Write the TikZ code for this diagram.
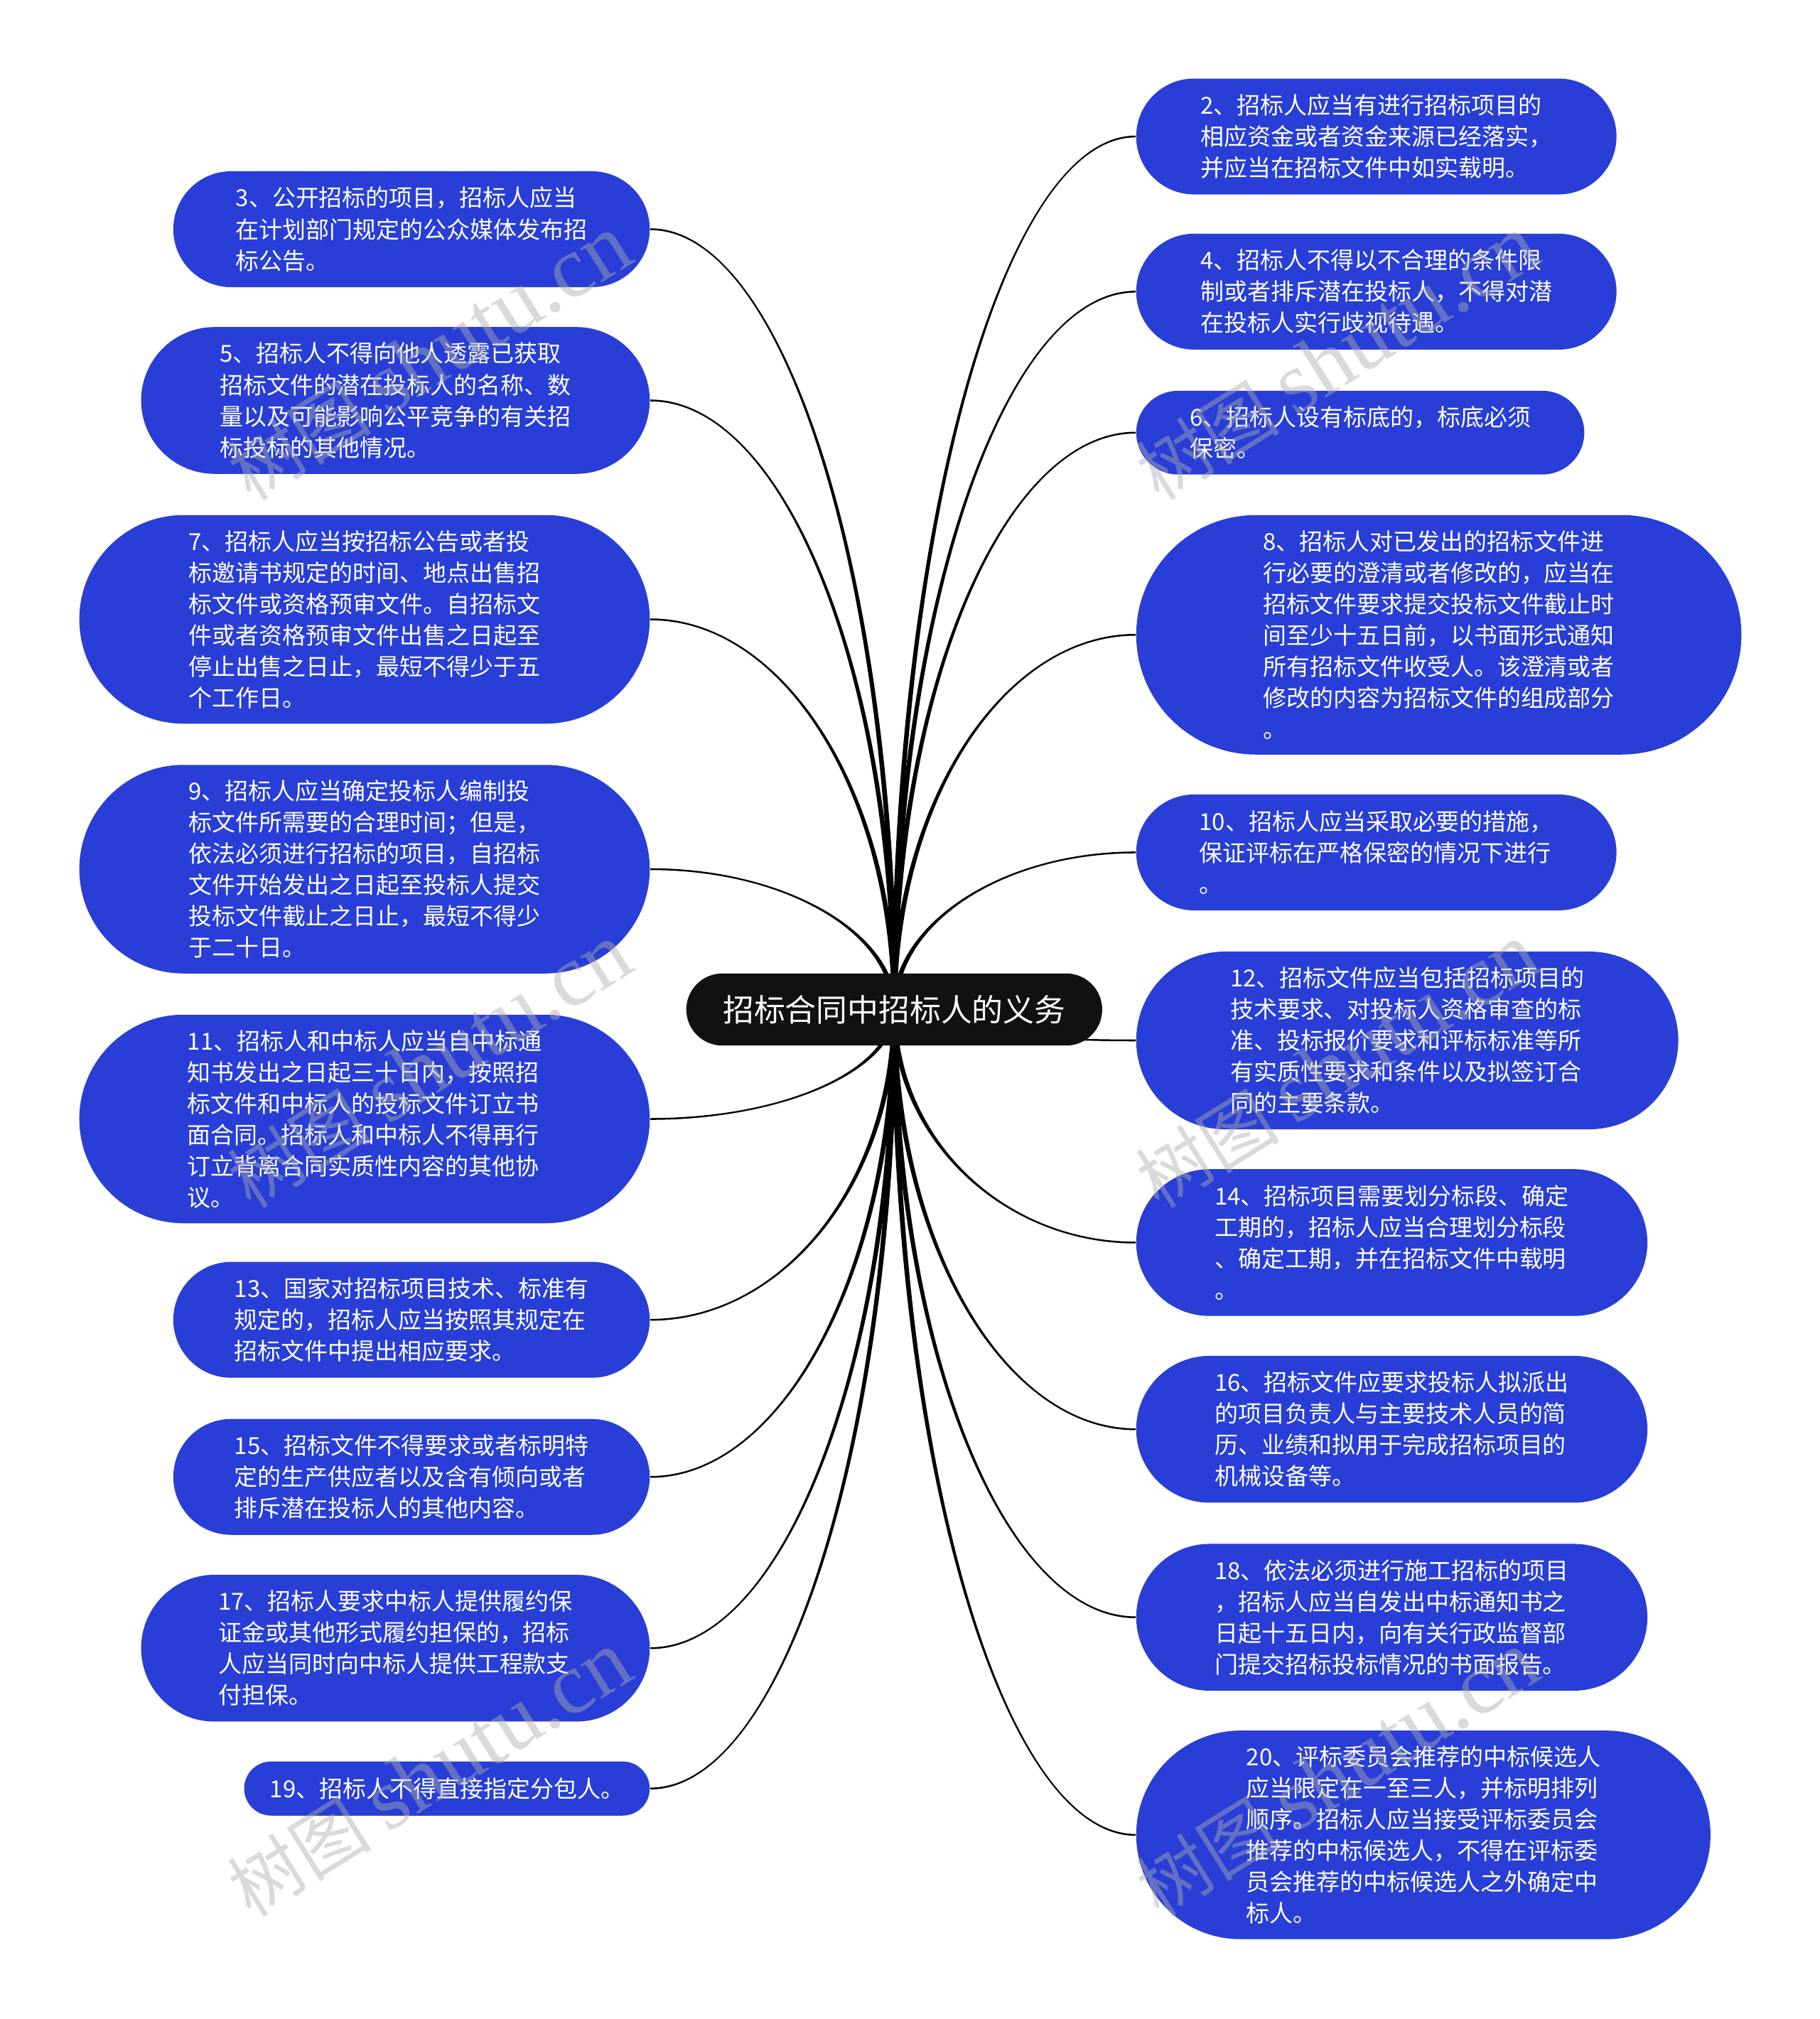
\documentclass[tikz,border=0pt]{standalone}
\usepackage{fontspec}
\setmainfont{Noto Sans CJK SC}
\newfontfamily\wmlat{Liberation Serif}
\usetikzlibrary{calc}
\definecolor{nodeblue}{RGB}{40,62,214}
\definecolor{rootblack}{RGB}{17,17,17}
\pgfdeclarelayer{bg}
\pgfsetlayers{bg,main}
\tikzset{
  bn/.style={fill=nodeblue, text=white, inner sep=0pt, align=left,
    font=\fontsize{9.1pt}{12.15pt}\selectfont},
  rootnode/.style={fill=rootblack, text=white, inner sep=0pt,
    font=\fontsize{12.1pt}{14pt}\selectfont, minimum width=161.5pt,
    minimum height=28pt, rounded corners=14pt},
  wm/.style={rotate=32, anchor=base west, inner sep=0pt, text=black!32, text opacity=0.45}
}
% right-side node: name, y, width, height, radius, text
\newcommand\rnode[6]{\node[bn, anchor=west, minimum width=#3, minimum height=#4, rounded corners=#5] (#1) at (882,#2) {#6};}
% left-side node
\newcommand\lnode[6]{\node[bn, anchor=east, minimum width=#3, minimum height=#4, rounded corners=#5] (#1) at (505,#2) {#6};}
% tapered connector from node anchor #1 to node anchor #2
\newcommand\conn[2]{%
\fill[black] let \p1=(#1), \p2=(#2), \n1={sign(\y2-\y1)}, \n2={sign(\x2-\x1)} in
 ({\x1-\n1*1pt},\y1) .. controls ({\x1-\n1*1pt},{\y1+0.55*(\y2-\y1)}) and ({\x2-0.55*(\x2-\x1)},{\y2+\n2*0.35pt}) .. (\x2,{\y2+\n2*0.35pt})
 -- (\x2,{\y2-\n2*0.35pt}) .. controls ({\x2-0.55*(\x2-\x1)},{\y2-\n2*0.35pt}) and ({\x1+\n1*1pt},{\y1+0.55*(\y2-\y1)}) .. ({\x1+\n1*1pt},\y1) -- cycle;}
\newcommand\wmark[3]{\node[wm] (#1) at (#2,#3) {\fontsize{28pt}{30pt}\selectfont 树图 {\wmlat\fontsize{34pt}{36pt}\selectfont shutu.cn}};}
\begin{document}
\begin{tikzpicture}[x=0.5pt,y=-0.5pt]
\useasboundingbox (0,0) rectangle (1413,1568);

\node[rootnode] (c) at (694.5,784) {招标合同中招标人的义务};

% right column
\rnode{n2}{106}{186.5pt}{45pt}{22.5pt}{2、招标人应当有进行招标项目的\\相应资金或者资金来源已经落实，\\并应当在招标文件中如实载明。}
\rnode{n4}{226.5}{186.5pt}{45pt}{22.5pt}{4、招标人不得以不合理的条件限\\制或者排斥潜在投标人，不得对潜\\在投标人实行歧视待遇。}
\rnode{n6}{336}{174pt}{32.5pt}{16.25pt}{6、招标人设有标底的，标底必须\\保密。}
\rnode{n8}{493}{235pt}{93pt}{46.5pt}{8、招标人对已发出的招标文件进\\行必要的澄清或者修改的，应当在\\招标文件要求提交投标文件截止时\\间至少十五日前，以书面形式通知\\所有招标文件收受人。该澄清或者\\修改的内容为招标文件的组成部分\\。}
\rnode{n10}{662}{186.5pt}{45pt}{22.5pt}{10、招标人应当采取必要的措施，\\保证评标在严格保密的情况下进行\\。}
\rnode{n12}{808}{210.5pt}{69pt}{34.5pt}{12、招标文件应当包括招标项目的\\技术要求、对投标人资格审查的标\\准、投标报价要求和评标标准等所\\有实质性要求和条件以及拟签订合\\同的主要条款。}
\rnode{n14}{965}{198.5pt}{57pt}{28.5pt}{14、招标项目需要划分标段、确定\\工期的，招标人应当合理划分标段\\、确定工期，并在招标文件中载明\\。}
\rnode{n16}{1110}{198.5pt}{57pt}{28.5pt}{16、招标文件应要求投标人拟派出\\的项目负责人与主要技术人员的简\\历、业绩和拟用于完成招标项目的\\机械设备等。}
\rnode{n18}{1256}{198.5pt}{57pt}{28.5pt}{18、依法必须进行施工招标的项目\\，招标人应当自发出中标通知书之\\日起十五日内，向有关行政监督部\\门提交招标投标情况的书面报告。}
\rnode{n20}{1425}{223pt}{81pt}{40.5pt}{20、评标委员会推荐的中标候选人\\应当限定在一至三人，并标明排列\\顺序。招标人应当接受评标委员会\\推荐的中标候选人，不得在评标委\\员会推荐的中标候选人之外确定中\\标人。}

% left column
\lnode{n3}{178}{185pt}{45pt}{22.5pt}{3、公开招标的项目，招标人应当\\在计划部门规定的公众媒体发布招\\标公告。}
\lnode{n5}{311}{197.5pt}{57pt}{28.5pt}{5、招标人不得向他人透露已获取\\招标文件的潜在投标人的名称、数\\量以及可能影响公平竞争的有关招\\标投标的其他情况。}
\lnode{n7}{481}{221.5pt}{81pt}{40.5pt}{7、招标人应当按招标公告或者投\\标邀请书规定的时间、地点出售招\\标文件或资格预审文件。自招标文\\件或者资格预审文件出售之日起至\\停止出售之日止，最短不得少于五\\个工作日。}
\lnode{n9}{675}{221.5pt}{81pt}{40.5pt}{9、招标人应当确定投标人编制投\\标文件所需要的合理时间；但是，\\依法必须进行招标的项目，自招标\\文件开始发出之日起至投标人提交\\投标文件截止之日止，最短不得少\\于二十日。}
\lnode{n11}{869}{221.5pt}{81pt}{40.5pt}{11、招标人和中标人应当自中标通\\知书发出之日起三十日内，按照招\\标文件和中标人的投标文件订立书\\面合同。招标人和中标人不得再行\\订立背离合同实质性内容的其他协\\议。}
\lnode{n13}{1025}{185pt}{45pt}{22.5pt}{13、国家对招标项目技术、标准有\\规定的，招标人应当按照其规定在\\招标文件中提出相应要求。}
\lnode{n15}{1147}{185pt}{45pt}{22.5pt}{15、招标文件不得要求或者标明特\\定的生产供应者以及含有倾向或者\\排斥潜在投标人的其他内容。}
\lnode{n17}{1280}{197.5pt}{57pt}{28.5pt}{17、招标人要求中标人提供履约保\\证金或其他形式履约担保的，招标\\人应当同时向中标人提供工程款支\\付担保。}
\lnode{n19}{1389}{157.5pt}{21pt}{10.5pt}{19、招标人不得直接指定分包人。}

\begin{pgfonlayer}{bg}
\fill[white] (0,0) rectangle (1413,1568);
\foreach \t in {n2,n4,n6,n8,n10,n12,n14,n16,n18,n20}{\conn{c.center}{\t.west}}
\foreach \t in {n3,n5,n7,n9,n11,n13,n15,n17,n19}{\conn{c.center}{\t.east}}
\end{pgfonlayer}

% watermarks
\wmark{w1}{195}{390}
\wmark{w2}{900}{390}
\wmark{w3}{195}{940}
\wmark{w4}{900}{940}
\wmark{w5}{195}{1490}
\wmark{w6}{900}{1490}
\end{tikzpicture}
\end{document}
